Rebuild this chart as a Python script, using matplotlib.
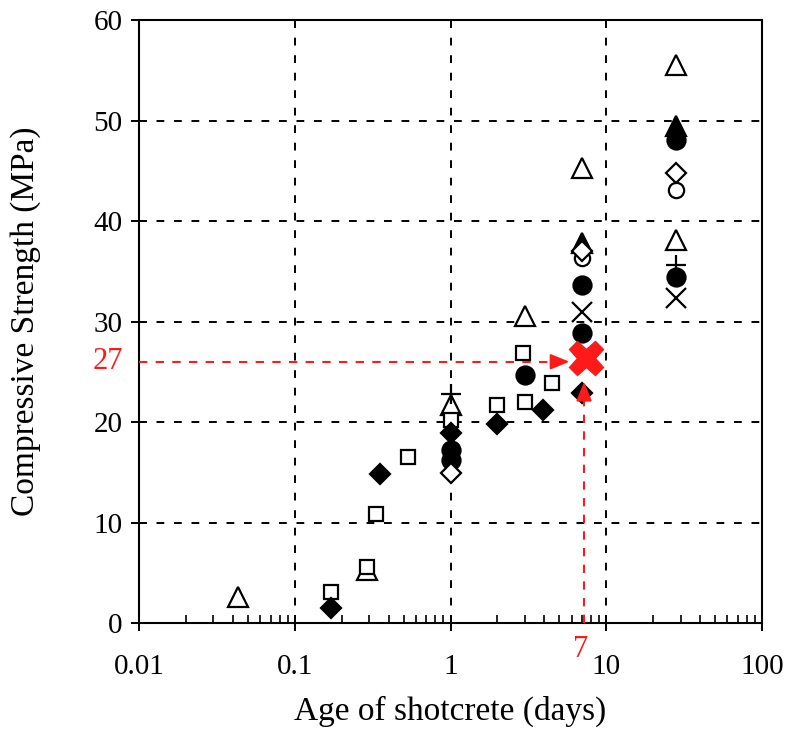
import matplotlib
matplotlib.use("Agg")
from matplotlib import pyplot as plt
import numpy as np

plt.rcParams['font.family'] = ['Liberation Serif', 'DejaVu Serif']

# open triangles
tri_open_x = [0.043, 0.29, 1.0, 3.0, 7.0, 28.0, 28.0]
tri_open_y = [2.6, 5.3, 21.7, 30.6, 45.3, 55.5, 38.1]
# filled triangles
tri_fill_x = [7.0, 28.0]
tri_fill_y = [37.8, 49.5]
# open squares
sq_x = [0.17, 0.29, 0.33, 0.53, 1.0, 2.0, 2.9, 3.0, 4.5]
sq_y = [3.1, 5.6, 10.8, 16.5, 20.2, 21.7, 26.9, 22.0, 23.9]
# filled diamonds
dia_fill_x = [0.17, 0.35, 1.0, 2.0, 3.9, 7.0]
dia_fill_y = [1.5, 14.8, 18.9, 19.8, 21.2, 22.9]
# filled circles
circ_fill_x = [1.0, 1.0, 3.0, 7.0, 7.0, 28.0, 28.0]
circ_fill_y = [17.2, 16.2, 24.7, 33.6, 28.9, 48.1, 34.4]
# open circles
circ_open_x = [7.0, 28.0]
circ_open_y = [36.3, 43.1]
# open diamonds
dia_open_x = [1.0, 7.0, 28.0]
dia_open_y = [14.9, 37.0, 44.8]
# crosses and pluses
cross_x = [7.0, 28.0]
cross_y = [30.9, 32.3]
plus_x = [1.0, 28.0]
plus_y = [22.8, 35.6]

# highlighted point
target_age = 7.2
target_strength = 26.0

fig = plt.figure(figsize=(7.9, 7.53), dpi=100)
ax = fig.add_axes([0.176, 0.1726, 0.7886, 0.8008])

ax.set_xscale('log')
ax.set_xlim(0.01, 100)
ax.set_ylim(0, 60)

ax.grid(True, which='major', color='black', linestyle=(0, (4, 5)), linewidth=1.4)
ax.set_axisbelow(True)

kw = dict(linestyle='none', color='black', mew=1.6, zorder=3)
ax.plot(tri_open_x, tri_open_y, marker='^', ms=15, mfc='white', **kw)
ax.plot(tri_fill_x, tri_fill_y, marker='^', ms=15, mfc='black', **kw)
ax.plot(sq_x, sq_y, marker='s', ms=10, mfc='white', **kw)
ax.plot(dia_fill_x, dia_fill_y, marker='D', ms=10, mfc='black', **kw)
ax.plot(circ_fill_x, circ_fill_y, marker='o', ms=13, mfc='black', **kw)
ax.plot(circ_open_x, circ_open_y, marker='o', ms=11, mfc='white', **kw)
ax.plot(dia_open_x, dia_open_y, marker='D', ms=10, mfc='white', **kw)
ax.plot(cross_x, cross_y, marker='x', ms=15, mfc='none', **kw)
ax.plot(plus_x, plus_y, marker='+', ms=15, mfc='none', **kw)

red = '#ff1a1a'
head = dict(arrowstyle='-|>,head_length=1.15,head_width=0.47', color=red, lw=1.5,
            mutation_scale=10, shrinkA=0, shrinkB=0)
ax.plot([0.01, 5.0], [target_strength, target_strength], color=red,
        linestyle=(0, (4, 4)), linewidth=1.5, zorder=4)
ax.annotate('', xy=(5.8, target_strength), xytext=(4.6, target_strength),
            arrowprops=head, zorder=4)
ax.plot([target_age, target_age], [0, 22.5], color=red,
        linestyle=(0, (4, 4)), linewidth=1.5, zorder=4)
ax.annotate('', xy=(target_age, 24.0), xytext=(target_age, 22.0),
            arrowprops=head, zorder=4)
ax.plot([7.45], [26.4], marker='X', ms=25, color=red, mec=red, linestyle='none', zorder=5)

ax.text(-0.025, target_strength, '27', color=red, fontsize=22, ha='right', va='center',
        transform=ax.get_yaxis_transform())
ax.text(6.8, -0.02, '7', color=red, fontsize=22, ha='center', va='top',
        transform=ax.get_xaxis_transform())

ax.set_xticks([0.01, 0.1, 1, 10, 100])
ax.set_xticklabels(['0.01', '0.1', '1', '10', '100'])
ax.set_yticks(np.arange(0, 61, 10))
ax.tick_params(axis='both', which='major', direction='inout', length=12, width=1.4,
               labelsize=21, colors='black')
ax.tick_params(axis='x', which='major', pad=16)
ax.tick_params(axis='y', which='major', pad=6)
ax.tick_params(axis='x', which='minor', direction='in', length=6, width=1.2)

for s in ax.spines.values():
    s.set_linewidth(1.5)

ax.set_xlabel('Age of shotcrete (days)', fontsize=24)
ax.set_ylabel('Compressive Strength (MPa)', fontsize=24)
ax.xaxis.set_label_coords(0.5, -0.12)
ax.yaxis.set_label_coords(-0.158, 0.5)

fig.savefig('out.png', dpi=100)
